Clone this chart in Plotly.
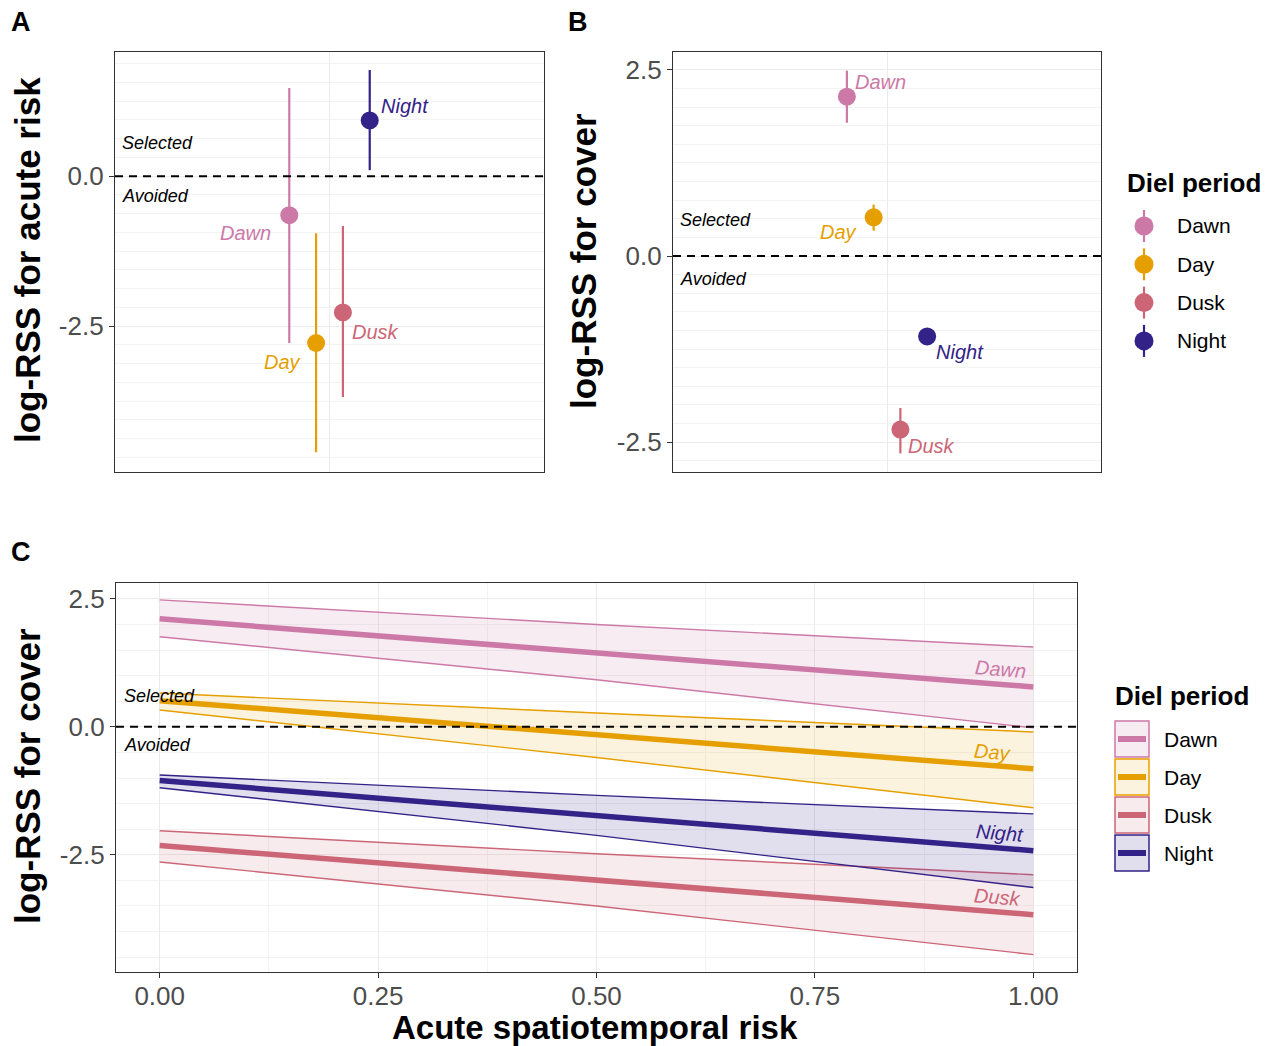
import plotly.graph_objects as go

# ---------------- data ----------------
periods = ["Dawn", "Day", "Dusk", "Night"]
colors = ["#CC79A7", "#E69F00", "#CC6677", "#332288"]
fills = ["rgba(204,121,167,0.14)", "rgba(230,159,0,0.13)",
         "rgba(204,102,119,0.13)", "rgba(51,34,136,0.15)"]

# Panel A: log-RSS for acute risk (estimate, lower, upper)
a_est = [-0.65, -2.78, -2.27, 0.93]
a_lo = [-2.78, -4.60, -3.68, 0.10]
a_hi = [1.47, -0.95, -0.83, 1.77]

# Panel B: log-RSS for cover (estimate, lower, upper)
b_est = [2.14, 0.52, -2.33, -1.08]
b_lo = [1.79, 0.34, -2.65, -1.17]
b_hi = [2.49, 0.69, -2.04, -0.99]

# Panel C: log-RSS for cover vs acute spatiotemporal risk
risk = [0.0, 0.5, 1.0]
dawn_mean = [2.11, 1.45, 0.78]
dawn_lo = [1.76, 0.92, -0.02]
dawn_hi = [2.48, 2.00, 1.56]
day_mean = [0.51, -0.15, -0.82]
day_lo = [0.33, -0.60, -1.58]
day_hi = [0.66, 0.27, -0.10]
dusk_mean = [-2.32, -2.99, -3.67]
dusk_lo = [-2.64, -3.50, -4.45]
dusk_hi = [-2.03, -2.48, -2.89]
night_mean = [-1.05, -1.73, -2.42]
night_lo = [-1.19, -2.12, -3.14]
night_hi = [-0.94, -1.34, -1.70]

c_mean = [dawn_mean, day_mean, dusk_mean, night_mean]
c_lo = [dawn_lo, day_lo, dusk_lo, night_lo]
c_hi = [dawn_hi, day_hi, dusk_hi, night_hi]

# ---------------- styling ----------------
W, H = 1270, 1046
FONT = "Liberation Sans, Arial, Helvetica, sans-serif"
TICKCOL = "#4D4D4D"
FRAME = "#333333"
GRID = "#EBEBEB"
GRIDMIN = "#F3F3F3"


def px_x(p):
    return p / W


def px_y(p):
    return 1 - p / H


dodge_width = 0.3
n = len(periods)
offsets = [(i - (n - 1) / 2) * dodge_width / n for i in range(n)]

fig = go.Figure()

# ---- Panel A & B points with error bars ----
for panel, (est, lo, hi) in enumerate([(a_est, a_lo, a_hi), (b_est, b_lo, b_hi)]):
    xa = "x" if panel == 0 else "x2"
    ya = "y" if panel == 0 else "y2"
    for i, p in enumerate(periods):
        fig.add_trace(go.Scatter(
            x=[1 + offsets[i]], y=[est[i]], mode="markers",
            marker=dict(size=18, color=colors[i], line=dict(width=0)),
            error_y=dict(type="data", symmetric=False,
                         array=[hi[i] - est[i]], arrayminus=[est[i] - lo[i]],
                         color=colors[i], thickness=2.2, width=0),
            xaxis=xa, yaxis=ya, showlegend=False, name=p,
        ))

# ---- Panel C ribbons ----
for i, p in enumerate(periods):
    fig.add_trace(go.Scatter(x=risk, y=c_lo[i], mode="lines",
                             line=dict(color=colors[i], width=1.4),
                             xaxis="x3", yaxis="y3", showlegend=False, name=p))
    fig.add_trace(go.Scatter(x=risk, y=c_hi[i], mode="lines",
                             line=dict(color=colors[i], width=1.4),
                             fill="tonexty", fillcolor=fills[i],
                             xaxis="x3", yaxis="y3", showlegend=False, name=p))
for i, p in enumerate(periods):
    fig.add_trace(go.Scatter(x=risk, y=c_mean[i], mode="lines",
                             line=dict(color=colors[i], width=5.5),
                             xaxis="x3", yaxis="y3", showlegend=False, name=p))

# ---------------- axes ----------------
common_y = dict(showline=True, mirror=True, linecolor=FRAME, linewidth=1.3,
                ticks="outside", ticklen=5, tickcolor=FRAME, tickwidth=1.2,
                tickfont=dict(family=FONT, size=26, color=TICKCOL),
                showgrid=True, gridcolor=GRID, gridwidth=1.2, zeroline=False)
common_x_blank = dict(showline=True, mirror=True, linecolor=FRAME, linewidth=1.3,
                      range=[0.4, 1.6], tickvals=[1], showticklabels=False,
                      ticks="", showgrid=True, gridcolor=GRID, gridwidth=1.2,
                      zeroline=False)

yA = [px_y(472), px_y(52)]
fig.update_layout(
    xaxis=dict(domain=[px_x(115), px_x(544)], anchor="y", **common_x_blank),
    yaxis=dict(domain=yA, anchor="x", range=[-4.93, 2.07],
               tickvals=[-2.5, 0], ticktext=["-2.5", "0.0"],
               minor=dict(tickmode="linear", tick0=0, dtick=0.3125, showgrid=True,
                          gridcolor=GRIDMIN, gridwidth=1, ticks=""),
               **common_y),
    xaxis2=dict(domain=[px_x(673), px_x(1101)], anchor="y2", **common_x_blank),
    yaxis2=dict(domain=yA, anchor="x2", range=[-2.90, 2.74],
                tickvals=[-2.5, 0, 2.5], ticktext=["-2.5", "0.0", "2.5"],
                minor=dict(tickmode="linear", tick0=0, dtick=0.25, showgrid=True,
                           gridcolor=GRIDMIN, gridwidth=1, ticks=""),
                **common_y),
    xaxis3=dict(domain=[px_x(116), px_x(1077)], anchor="y3", range=[-0.05, 1.05],
                tickvals=[0, 0.25, 0.5, 0.75, 1.0],
                ticktext=["0.00", "0.25", "0.50", "0.75", "1.00"],
                minor=dict(tickmode="linear", tick0=0, dtick=0.125, showgrid=True,
                           gridcolor=GRIDMIN, gridwidth=1, ticks=""),
                showline=True, mirror=True, linecolor=FRAME, linewidth=1.3,
                ticks="outside", ticklen=5, tickcolor=FRAME, tickwidth=1.2,
                ticklabelstandoff=-4,
                tickfont=dict(family=FONT, size=26, color=TICKCOL),
                showgrid=True, gridcolor=GRID, gridwidth=1.2, zeroline=False),
    yaxis3=dict(domain=[px_y(972), px_y(583)], anchor="x3", range=[-4.79, 2.81],
                tickvals=[-2.5, 0, 2.5], ticktext=["-2.5", "0.0", "2.5"],
                minor=dict(tickmode="linear", tick0=0, dtick=0.5, showgrid=True,
                           gridcolor=GRIDMIN, gridwidth=1, ticks=""),
                **common_y),
)

# ---------------- reference lines ----------------
shapes = []
for xr, yr in [("x domain", "y"), ("x2 domain", "y2"), ("x3 domain", "y3")]:
    shapes.append(dict(type="line", xref=xr, yref=yr, x0=0, x1=1, y0=0, y1=0,
                       line=dict(color="black", width=2, dash="8px,6px"), layer="above"))

# ---------------- annotations ----------------
ann = []


def text(x, y, s, size, xanchor="center", yanchor="middle", color="black",
         bold=False, italic=False, angle=0, xref="paper", yref="paper",
         xshift=0, yshift=0):
    ann.append(dict(x=x, y=y, xref=xref, yref=yref, text=s, showarrow=False,
                    xanchor=xanchor, yanchor=yanchor, textangle=angle,
                    xshift=xshift, yshift=yshift,
                    font=dict(family=FONT, size=size, color=color,
                              weight="bold" if bold else "normal",
                              style="italic" if italic else "normal")))


# panel letters
text(px_x(21), px_y(22), "A", 27, bold=True)
text(px_x(578), px_y(22), "B", 27, bold=True)
text(px_x(21), px_y(552), "C", 27, bold=True)

# axis titles
text(px_x(27), px_y(260), "log-RSS for acute risk", 35, bold=True, angle=-90)
text(px_x(583), px_y(261), "log-RSS for cover", 35, bold=True, angle=-90)
text(px_x(27), px_y(776), "log-RSS for cover", 35, bold=True, angle=-90)
text(px_x(595), px_y(1027), "Acute spatiotemporal risk", 33, bold=True)

# Selected / Avoided
text(0.012, 0.55, "Selected", 18, xanchor="left", italic=True, xref="x domain", yref="y")
text(0.012, -0.33, "Avoided", 18, xanchor="left", italic=True, xref="x domain", yref="y")
text(0.012, 0.48, "Selected", 18, xanchor="left", italic=True, xref="x2 domain", yref="y2")
text(0.012, -0.31, "Avoided", 18, xanchor="left", italic=True, xref="x2 domain", yref="y2")
text(0.006, 0.61, "Selected", 18, xanchor="left", italic=True, xref="x3 domain", yref="y3")
text(0.006, -0.35, "Avoided", 18, xanchor="left", italic=True, xref="x3 domain", yref="y3")

# point labels (xanchor, xshift, yshift)
lab_a = [("right", -16, -18), ("right", -13, -19), ("left", 7, -20), ("left", 9, 14)]
lab_b = [("left", 6, 15), ("right", -15, -15), ("left", 6, -16), ("left", 7, -16)]
for i, p in enumerate(periods):
    xa, xs, ys = lab_a[i]
    text(1 + offsets[i], a_est[i], p, 20, xanchor=xa, italic=True, color=colors[i],
         xref="x", yref="y", xshift=xs, yshift=ys)
    xa, xs, ys = lab_b[i]
    text(1 + offsets[i], b_est[i], p, 20, xanchor=xa, italic=True, color=colors[i],
         xref="x2", yref="y2", xshift=xs, yshift=ys)

# line labels, panel C (near right end, following slope)
lab_c = [(0.962, 1.13), (0.953, -0.49), (0.959, -3.32), (0.962, -2.07)]
for i, p in enumerate(periods):
    text(lab_c[i][0], lab_c[i][1], p, 20, italic=True, color=colors[i],
         xref="x3", yref="y3", angle=4.5)

# ---- legend for panel B (pointrange keys) ----
text(px_x(1125), px_y(183), "Diel period", 26, xanchor="left", bold=True)
for i, p in enumerate(periods):
    yc = 226 + i * 38.3
    shapes.append(dict(type="line", xref="paper", yref="paper",
                       x0=px_x(1144), x1=px_x(1144), y0=px_y(yc + 16), y1=px_y(yc - 16),
                       line=dict(color=colors[i], width=2.2)))
    shapes.append(dict(type="circle", xref="paper", yref="paper",
                       x0=px_x(1144 - 9.5), x1=px_x(1144 + 9.5),
                       y0=px_y(yc + 9.5), y1=px_y(yc - 9.5),
                       fillcolor=colors[i], line=dict(width=0)))
    text(px_x(1175), px_y(yc), p, 21, xanchor="left")

# ---- legend for panel C (ribbon + line keys) ----
text(px_x(1113), px_y(696), "Diel period", 26, xanchor="left", bold=True)
for i, p in enumerate(periods):
    top = 721 + i * 38
    shapes.append(dict(type="rect", xref="paper", yref="paper",
                       x0=px_x(1115), x1=px_x(1149), y0=px_y(top + 36), y1=px_y(top),
                       fillcolor=fills[i], line=dict(color=colors[i], width=1.5)))
    shapes.append(dict(type="line", xref="paper", yref="paper",
                       x0=px_x(1118), x1=px_x(1146), y0=px_y(top + 18), y1=px_y(top + 18),
                       line=dict(color=colors[i], width=6)))
    text(px_x(1162), px_y(top + 18), p, 21, xanchor="left")

fig.update_layout(
    width=W, height=H, autosize=False,
    margin=dict(l=0, r=0, t=0, b=0),
    paper_bgcolor="white", plot_bgcolor="white",
    showlegend=False, shapes=shapes, annotations=ann,
    font=dict(family=FONT),
)

fig.write_html("out.html", config={"displayModeBar": False})

# remove the browser's default page margin so the figure sits at the window origin
with open("out.html", encoding="utf-8") as f:
    html = f.read()
html = html.replace("<head>", "<head><style>html,body{margin:0;padding:0;overflow:hidden}</style>", 1)
with open("out.html", "w", encoding="utf-8") as f:
    f.write(html)
